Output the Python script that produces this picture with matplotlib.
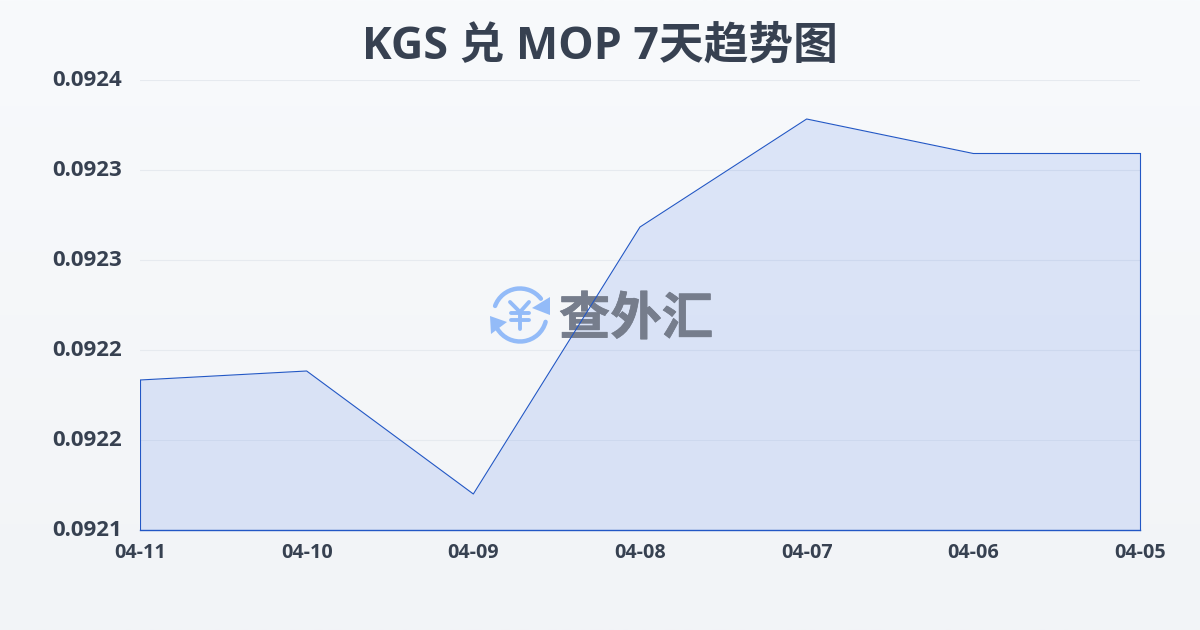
import numpy as np
import matplotlib
matplotlib.use("Agg")
import matplotlib.pyplot as plt
import matplotlib.patheffects as pe
from matplotlib.patches import Arc, Polygon
from matplotlib.transforms import ScaledTranslation

plt.rcParams['font.family'] = ['Open Sans', 'Noto Sans CJK SC', 'DejaVu Sans']

dates = ["04-11", "04-10", "04-09", "04-08", "04-07", "04-06", "04-05"]
rates = [0.0922, 0.092206, 0.092124, 0.092302, 0.092374, 0.092351, 0.092351]
y_ticks = [0.0921, 0.09216, 0.09222, 0.09228, 0.09234, 0.0924]
y_labels = ["0.0921", "0.0922", "0.0922", "0.0923", "0.0923", "0.0924"]

TEXT = "#374151"
LINE = "#2257c5"

fig = plt.figure(figsize=(12, 6.3), dpi=100)

# background gradient
bg = fig.add_axes([0, 0, 1, 1], zorder=0)
bg.imshow(np.linspace(0, 1, 256).reshape(-1, 1),
          cmap=matplotlib.colors.LinearSegmentedColormap.from_list("bg", ["#f8fafc", "#f2f4f7"]),
          aspect="auto")
bg.axis("off")

ax = fig.add_axes([140 / 1200, 1 - 530 / 630, 1000 / 1200, 450 / 630], zorder=1)
ax.patch.set_alpha(0)
x = np.arange(len(dates))
ax.fill_between(x, rates, 0.0921, color="#2f66e8", alpha=0.135, lw=0, zorder=2)
ax.plot([0, 0], [0.0921, rates[0]], color=LINE, lw=0.8, zorder=4)
ax.plot([6, 6], [0.0921, rates[6]], color=LINE, lw=0.8, zorder=4, clip_on=False)
ax.plot([0, 6], [0.0921, 0.0921], color=LINE, lw=1.0, zorder=4, clip_on=False)

ax.set_xlim(0, 6)
ax.set_ylim(0.0921, 0.0924)
ax.set_xticks(x)
ax.set_xticklabels(dates, fontsize=14.2, fontweight="bold", color=TEXT)
ax.set_yticks(y_ticks)
ax.set_yticklabels(y_labels, fontsize=16, fontweight="bold", color=TEXT, va="center_baseline")
ax.tick_params(axis="both", length=0)
ax.tick_params(axis="x", pad=9)
ax.tick_params(axis="y", pad=13)
ax.grid(axis="y", color="#e6eaef", lw=0.8, zorder=1)
ax.set_axisbelow(True)
for s in ax.spines.values():
    s.set_visible(False)

# y labels sit a little above their grid lines
shift = ScaledTranslation(0, 2 / 100, fig.dpi_scale_trans)
for lab in ax.get_yticklabels():
    lab.set_transform(lab.get_transform() + shift)

fig.text(0.5, 1 - 47 / 630, "KGS 兑 MOP 7天趋势图", ha="center", va="center",
         fontsize=32.2, fontweight="bold", color=TEXT)

# watermark logo, overlay in pixel coordinates
wm = fig.add_axes([0, 0, 1, 1], zorder=2)
wm.set_xlim(0, 1200)
wm.set_ylim(630, 0)
wm.axis("off")
wm.patch.set_alpha(0)
BLUE = "#93bbf8"
wm.add_patch(Arc((520, 315), 53, 53, theta1=200, theta2=322, color=BLUE, lw=3.2, capstyle="round"))
wm.add_patch(Arc((520, 315), 53, 53, theta1=15, theta2=148, color=BLUE, lw=3.2, capstyle="round"))
wm.add_patch(Polygon([(550, 297), (550, 315), (532, 308)], color=BLUE, lw=0))
wm.add_patch(Polygon([(490, 316), (507, 322), (491, 334)], color=BLUE, lw=0))
wm.plot([510, 520, 529], [302, 312, 302], color=BLUE, lw=2.8, solid_capstyle="round")
wm.plot([520, 520], [312, 329], color=BLUE, lw=2.8, solid_capstyle="round")
wm.plot([511, 529], [313, 313], color=BLUE, lw=2.8, solid_capstyle="round")
wm.plot([511, 529], [320, 320], color=BLUE, lw=2.8, solid_capstyle="round")
wm.text(636, 319, "查外汇", ha="center", va="center", fontsize=37, fontweight="bold",
        color="#767d8c", family=['Noto Sans CJK SC', 'DejaVu Sans'],
        path_effects=[pe.withStroke(linewidth=0.5, foreground="#767d8c")])

# keep the line above the watermark
ax2 = fig.add_axes(ax.get_position(), zorder=3)
ax2.patch.set_alpha(0)
ax2.axis("off")
ax2.set_xlim(0, 6)
ax2.set_ylim(0.0921, 0.0924)
ax2.plot(x, rates, color=LINE, lw=0.8)

fig.savefig("out.png", dpi=100)
